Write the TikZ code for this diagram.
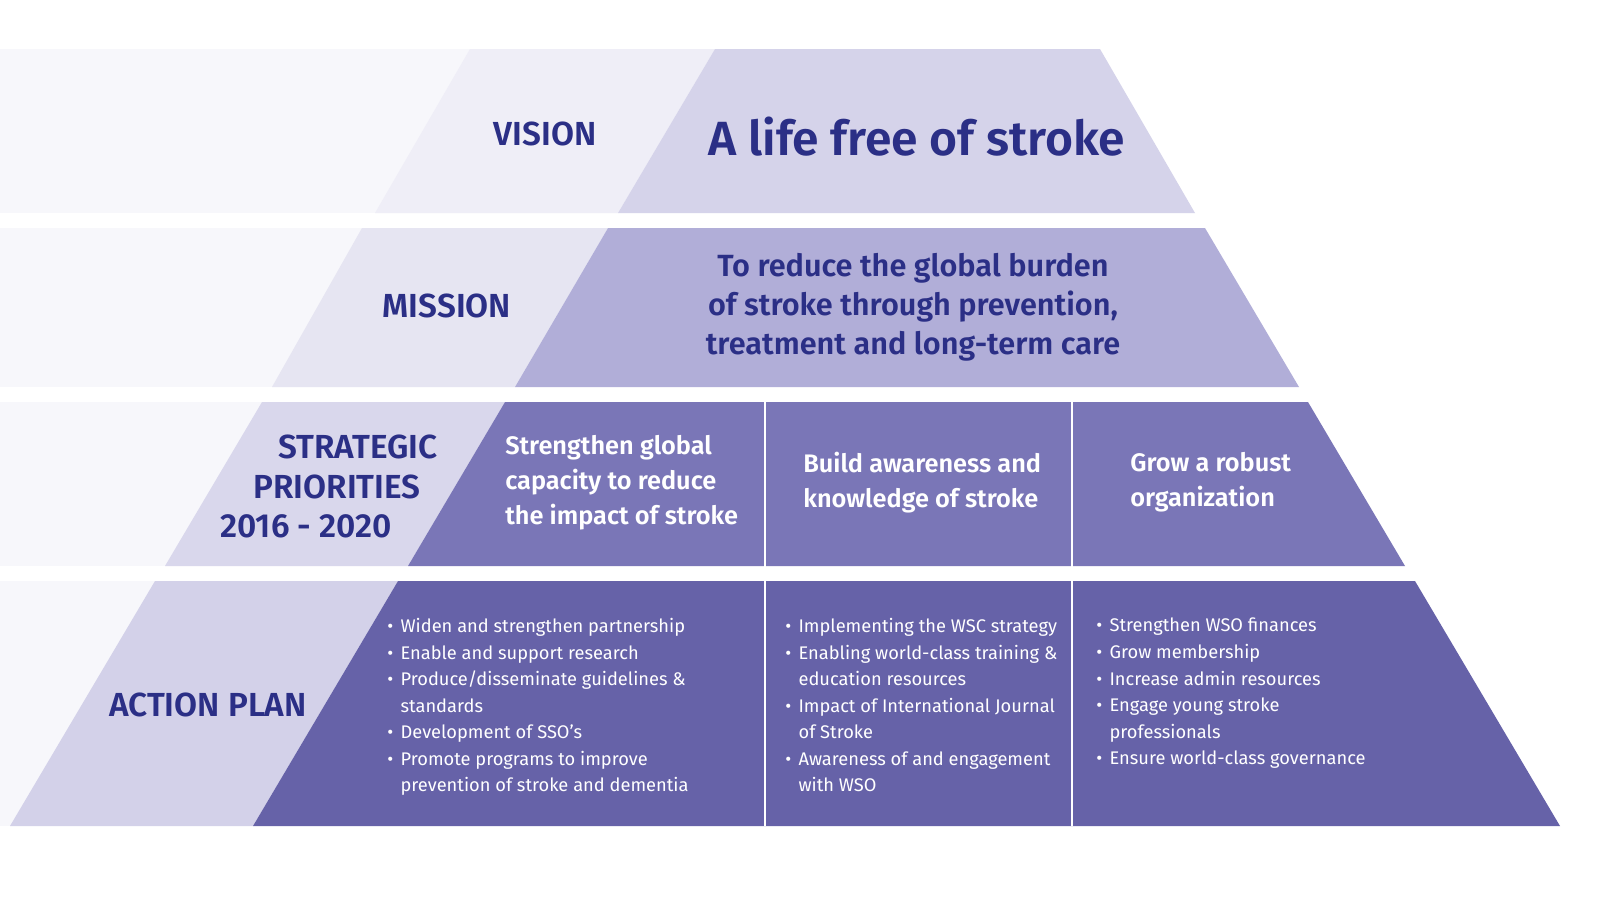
\documentclass[tikz,border=0pt]{standalone}
\usepackage{fontspec}
\setmainfont{Fira Sans}[BoldFont={Fira Sans SemiBold}]
\definecolor{navy}{HTML}{2B2F86}
\definecolor{bgl}{HTML}{F7F7FB}
\definecolor{ma}{HTML}{D5D3EA}
\definecolor{la}{HTML}{EFEEF7}
\definecolor{mb}{HTML}{B1AED8}
\definecolor{lb}{HTML}{E6E5F2}
\definecolor{mc}{HTML}{7A76B7}
\definecolor{lc}{HTML}{D9D7EC}
\definecolor{md}{HTML}{6662A8}
\definecolor{ld}{HTML}{D3D1E9}
\newcommand{\bl}[1]{\makebox[10pt][l]{\textbullet}#1}
\newcommand{\cl}[1]{\hspace*{10pt}#1}
\tikzset{lab/.style={font=\bfseries\fontsize{25}{29}\selectfont,text=navy,inner sep=0},
 wt/.style={font=\bfseries\fontsize{19}{26.3}\selectfont,text=white,align=left,anchor=north west,inner sep=0},
 bul/.style={font=\fontsize{13.7}{19.9}\selectfont,text=white,align=left,anchor=north west,inner sep=0}}
\begin{document}
\begin{tikzpicture}[x=0.75pt,y=-0.75pt]
\useasboundingbox (0,0) rectangle (1600,900);
\fill[white] (0,0) rectangle (1600,900);
\fill[bgl] (0,49) rectangle (470,213);
\fill[la] (470,49) -- (715,49) -- (618,213) -- (375,213) -- cycle;
\fill[ma] (715,49) -- (1100,49) -- (1195,213) -- (618,213) -- cycle;
\fill[bgl] (0,228) rectangle (362,387);
\fill[lb] (362,228) -- (608,228) -- (515,387) -- (272,387) -- cycle;
\fill[mb] (608,228) -- (1205,228) -- (1299,387) -- (515,387) -- cycle;
\fill[bgl] (0,402) rectangle (262,566);
\fill[lc] (262,402) -- (505,402) -- (408,566) -- (165,566) -- cycle;
\fill[mc] (505,402) -- (1308,402) -- (1405,566) -- (408,566) -- cycle;
\fill[bgl] (0,581) rectangle (155,826);
\fill[ld] (155,581) -- (398,581) -- (253,826) -- (10,826) -- cycle;
\fill[md] (398,581) -- (1415,581) -- (1560,826) -- (253,826) -- cycle;
\draw[white,line width=1.5pt] (765,402) -- (765,826) (1072,402) -- (1072,826);
\node[lab] (vis) at (545,134) {VISION};
\node[font=\bfseries\fontsize{36}{44}\selectfont,text=navy,inner sep=0] (life) at (917,137) {A life free of stroke};
\node[lab] (mis) at (447,306) {MISSION};
\node[font=\bfseries\fontsize{23}{29.3}\selectfont,text=navy,align=center,inner sep=0] (mt) at (913,307) {To reduce the global burden\\of stroke through prevention,\\treatment and long-term care};
\node[lab] (s1) at (358,447) {STRATEGIC};
\node[lab] (s2) at (337,487) {PRIORITIES};
\node[lab] (s3) at (306,526) {2016 - 2020};
\node[wt] (p1) at (505,435) {Strengthen global\\capacity to reduce\\the impact of stroke};
\node[wt] (p2) at (803,452) {Build awareness and\\knowledge of stroke};
\node[wt] (p3) at (1130,452) {Grow a robust\\organization};
\node[lab] (ap) at (208,705) {ACTION PLAN};
\node[bul] (b1) at (387,618) {\bl{Widen and strengthen partnership}\\\bl{Enable and support research}\\\bl{Produce/disseminate guidelines \&}\\\cl{standards}\\\bl{Development of SSO’s}\\\bl{Promote programs to improve}\\\cl{prevention of stroke and dementia}};
\node[bul] (b2) at (785,618) {\bl{Implementing the WSC strategy}\\\bl{Enabling world-class training \&}\\\cl{education resources}\\\bl{Impact of International Journal}\\\cl{of Stroke}\\\bl{Awareness of and engagement}\\\cl{with WSO}};
\node[bul] (b3) at (1096,618) {\bl{Strengthen WSO finances}\\\bl{Grow membership}\\\bl{Increase admin resources}\\\bl{Engage young stroke}\\\cl{professionals}\\\bl{Ensure world-class governance}};
\end{tikzpicture}
\end{document}
